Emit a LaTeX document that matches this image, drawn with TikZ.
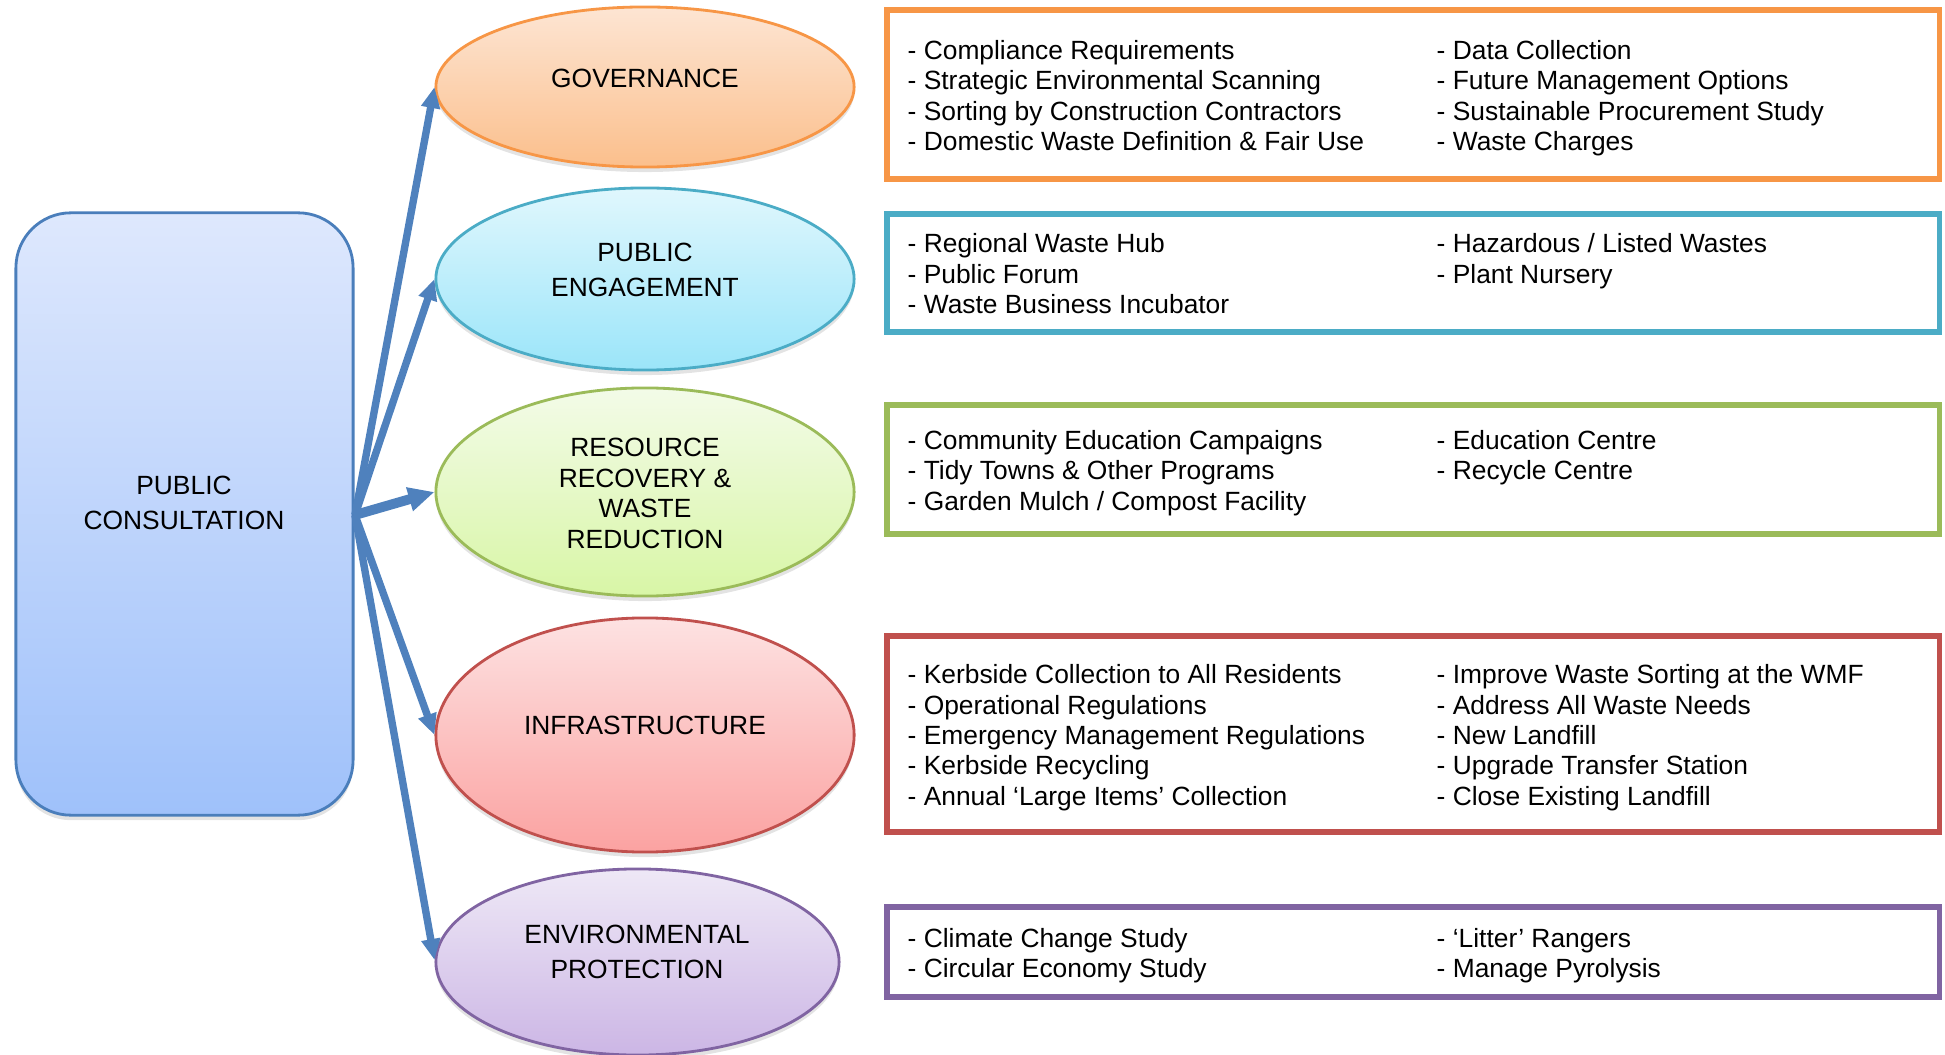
\documentclass[tikz,border=0pt]{standalone}
\usepackage{fontspec}
\setmainfont{Liberation Sans}
\usetikzlibrary{shapes.geometric,arrows.meta,shadows}
\definecolor{arrowblue}{HTML}{4F81BD}
\definecolor{pcborder}{HTML}{4A7EBB}
\definecolor{pctop}{HTML}{DEE8FD}
\definecolor{pcbot}{HTML}{9FC1FA}
\definecolor{govb}{HTML}{F79646}
\definecolor{govt}{HTML}{FDE5D3}
\definecolor{govbot}{HTML}{FBBF8C}
\definecolor{peb}{HTML}{4BACC6}
\definecolor{pet}{HTML}{E0F7FD}
\definecolor{pebot}{HTML}{9BE5F9}
\definecolor{resb}{HTML}{9BBB59}
\definecolor{rest}{HTML}{F3FBE8}
\definecolor{resbot}{HTML}{D8F6A6}
\definecolor{infb}{HTML}{C0504D}
\definecolor{inft}{HTML}{FDE2E2}
\definecolor{infbot}{HTML}{FBA2A1}
\definecolor{envb}{HTML}{8064A2}
\definecolor{envt}{HTML}{EEE8F6}
\definecolor{envbot}{HTML}{CCB6E5}
\begin{document}
\begin{tikzpicture}[x=0.01cm,y=-0.01cm,
  item/.style={anchor=base west, inner sep=0pt, font=\fontsize{7.5}{8.7}\selectfont},
  oval/.style={ellipse, inner sep=0pt, line width=0.8pt,
    drop shadow={shadow xshift=0pt, shadow yshift=-0.05cm, opacity=0.22}},
  ovtext/.style={align=center, inner sep=0pt, font=\fontsize{7.5}{9.9}\selectfont},
  listbox/.style={rectangle, inner sep=0pt, line width=1.6pt},
  conn/.style={draw=arrowblue, line width=2.1pt, -{Triangle[length=0.21cm,width=0.18cm]}}
]
\useasboundingbox (0,0) rectangle (1945,1055);

% left rounded box
\node[rectangle, rounded corners=0.55cm, minimum width=3.37cm, minimum height=6.02cm,
  draw=pcborder, line width=0.8pt, top color=pctop, bottom color=pcbot,
  drop shadow={shadow xshift=0pt, shadow yshift=-0.05cm, opacity=0.22}] (pc) at (184.5,514) {};
\node[ovtext] (pctext) at (184,503) {PUBLIC\\CONSULTATION};

% ellipses
\node[oval, minimum width=4.18cm, minimum height=1.60cm, draw=govb, top color=govt, bottom color=govbot] (gov) at (645,87) {};
\node[oval, minimum width=4.18cm, minimum height=1.82cm, draw=peb, top color=pet, bottom color=pebot] (pe) at (645,279) {};
\node[oval, minimum width=4.18cm, minimum height=2.08cm, draw=resb, top color=rest, bottom color=resbot] (res) at (645,492) {};
\node[oval, minimum width=4.18cm, minimum height=2.34cm, draw=infb, top color=inft, bottom color=infbot] (inf) at (645,735) {};
\node[oval, minimum width=4.03cm, minimum height=1.86cm, draw=envb, top color=envt, bottom color=envbot] (env) at (637.5,962) {};

\node[ovtext] (govtext) at (645,78) {GOVERNANCE};
\node[ovtext] (petext) at (645,270) {PUBLIC\\ENGAGEMENT};
\node[ovtext, font=\fontsize{7.5}{8.7}\selectfont] (restext) at (645,493.5) {RESOURCE\\RECOVERY \&\\WASTE\\REDUCTION};
\node[ovtext] (inftext) at (645,725.5) {INFRASTRUCTURE};
\node[ovtext] (envtext) at (637,952) {ENVIRONMENTAL\\PROTECTION};

% connectors
\coordinate (src) at (355,515);
\draw[conn] (src) -- (gov.west);
\draw[conn] (src) -- (pe.west);
\draw[conn, line width=2.8pt, -{Triangle[length=0.26cm,width=0.23cm]}] (src) -- (res.west);
\draw[conn] (src) -- (inf.west);
\draw[conn] (src) -- ([yshift=0.02cm]env.west);

% list boxes
\node[listbox, draw=govb, minimum width=10.52cm, minimum height=1.69cm] (govbox) at (1413,94.5) {};
\node[listbox, draw=peb, minimum width=10.52cm, minimum height=1.18cm] (pebox) at (1413,273) {};
\node[listbox, draw=resb, minimum width=10.52cm, minimum height=1.29cm] (resbox) at (1413,469.5) {};
\node[listbox, draw=infb, minimum width=10.52cm, minimum height=1.96cm] (infbox) at (1413,734) {};
\node[listbox, draw=envb, minimum width=10.52cm, minimum height=0.90cm] (envbox) at (1413,952) {};

% list texts
\foreach \t [count=\i from 0] in {- Compliance Requirements, - Strategic Environmental Scanning, - Sorting by Construction Contractors, - Domestic Waste Definition \& Fair Use}
  \node[item] (ga\i) at (907,{59.3+30.5*\i}) {\t};
\foreach \t [count=\i from 0] in {- Data Collection, - Future Management Options, - Sustainable Procurement Study, - Waste Charges}
  \node[item] (gb\i) at (1436,{59.3+30.5*\i}) {\t};

\foreach \t [count=\i from 0] in {- Regional Waste Hub, - Public Forum, - Waste Business Incubator}
  \node[item] (pa\i) at (907,{253+30.4*\i}) {\t};
\foreach \t [count=\i from 0] in {- Hazardous / Listed Wastes, - Plant Nursery}
  \node[item] (pb\i) at (1436,{253+30.4*\i}) {\t};

\foreach \t [count=\i from 0] in {- Community Education Campaigns, - Tidy Towns \& Other Programs, - Garden Mulch / Compost Facility}
  \node[item] (ra\i) at (907,{449.5+30.4*\i}) {\t};
\foreach \t [count=\i from 0] in {- Education Centre, - Recycle Centre}
  \node[item] (rb\i) at (1436,{449.5+30.4*\i}) {\t};

\foreach \t [count=\i from 0] in {- Kerbside Collection to All Residents, - Operational Regulations, - Emergency Management Regulations, - Kerbside Recycling, - Annual ‘Large Items’ Collection}
  \node[item] (ia\i) at (907,{683.6+30.4*\i}) {\t};
\foreach \t [count=\i from 0] in {- Improve Waste Sorting at the WMF, - Address All Waste Needs, - New Landfill, - Upgrade Transfer Station, - Close Existing Landfill}
  \node[item] (ib\i) at (1436,{683.6+30.4*\i}) {\t};

\foreach \t [count=\i from 0] in {- Climate Change Study, - Circular Economy Study}
  \node[item] (ea\i) at (907,{947+30.4*\i}) {\t};
\foreach \t [count=\i from 0] in {- ‘Litter’ Rangers, - Manage Pyrolysis}
  \node[item] (eb\i) at (1436,{947+30.4*\i}) {\t};
\end{tikzpicture}
\end{document}
